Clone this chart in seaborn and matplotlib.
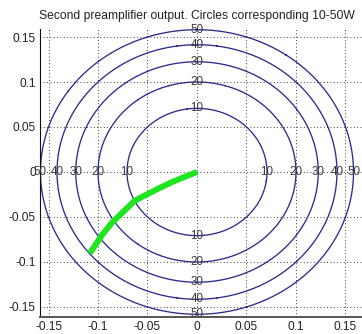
import numpy as np
import pandas as pd
import matplotlib
matplotlib.use("Agg")
import matplotlib.pyplot as plt
import matplotlib.transforms as mtransforms
import seaborn as sns

# Output power circles (W) and the scale linking power to |v|^2
power_levels = [10, 20, 30, 40, 50]
watts_per_v2 = 2000.0

# Measured trajectory of the second preamplifier output
trace_x = [0.0, -0.0135, -0.0267, -0.0431, -0.0629, -0.0760, -0.0859, -0.0958, -0.1056, -0.1083]
trace_y = [0.0, -0.0059, -0.0119, -0.0207, -0.0319, -0.0459, -0.0563, -0.0700, -0.0859, -0.0903]

tick_values = [-0.15, -0.1, -0.05, 0, 0.05, 0.1, 0.15]
tick_labels = ["-0.15", "-0.1", "-0.05", "0", "0.05", "0.1", "0.15"]

title = "Second preamplifier output. Circles corresponding 10-50W"

sns.set_style("white")
plt.rcParams["font.family"] = ["Liberation Sans", "DejaVu Sans"]

fig = plt.figure(figsize=(3.62, 3.34), dpi=100)
ax = fig.add_axes([40 / 362, 17.5 / 334, 1 - 40 / 362, (316.5 - 29) / 334])

xlim = (-0.1586, 0.1667)
ylim = (-0.1606, 0.1589)

# Power contours
gx = np.linspace(-0.2, 0.2, 801)
gy = np.linspace(-0.2, 0.2, 801)
xx, yy = np.meshgrid(gx, gy)
power = watts_per_v2 * (xx ** 2 + yy ** 2)
ax.contour(xx, yy, power, levels=power_levels, colors="#2c2c90", linewidths=0.95, zorder=2)

for lvl in power_levels:
    r = np.sqrt(lvl / watts_per_v2)
    for (px, py) in [(0, r), (0, -r), (-r, 0), (r, 0)]:
        ax.text(px, py, str(lvl), ha="center", va="center", fontsize=8.4,
                color="#3a3a3a", zorder=3)

# Trajectory
df = pd.DataFrame({"x": trace_x, "y": trace_y})
sns.lineplot(data=df, x="x", y="y", sort=False, estimator=None, ax=ax,
             color="#1ee61e", linewidth=4.3, solid_capstyle="butt",
             solid_joinstyle="round", zorder=4)

ax.set_xlim(*xlim)
ax.set_ylim(*ylim)
ax.set_xticks(tick_values)
ax.set_xticklabels(tick_labels)
ax.set_yticks(tick_values)
ax.set_yticklabels(tick_labels)
ax.set_xlabel("")
ax.set_ylabel("")

ax.grid(True, linestyle=(0, (1, 3)), color="black", linewidth=0.6)
ax.set_axisbelow(True)
ax.tick_params(direction="in", length=3, width=0.6, labelsize=8.6, colors="#222222",
               pad=3)
for side in ["top", "right"]:
    ax.spines[side].set_visible(False)
ax.spines["left"].set_color("#111111")
ax.spines["left"].set_linewidth(0.8)
ax.spines["bottom"].set_color("#555555")
ax.spines["bottom"].set_linewidth(1.4)

trans = mtransforms.blended_transform_factory(ax.transData, ax.transAxes)
ax.text(0, 1.025, title, transform=trans, ha="center", va="bottom",
        fontsize=8.7, color="#222222")

fig.savefig("out.png", dpi=100)
